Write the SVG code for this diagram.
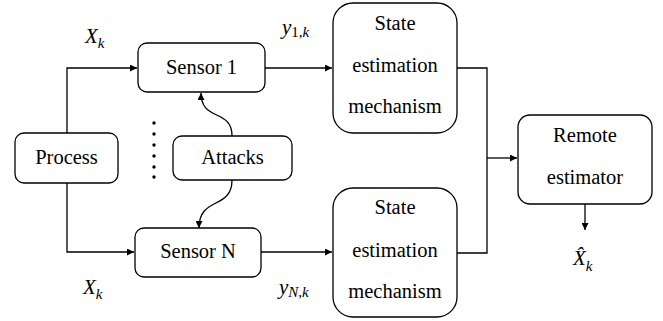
<svg xmlns="http://www.w3.org/2000/svg" width="663" height="321" viewBox="0 0 663 321">
<defs>
<style>
.box{fill:#fff;stroke:#000;stroke-width:1.3}
.wire{fill:none;stroke:#000;stroke-width:1.3}
.lbl{font-family:'Liberation Serif',serif;font-size:20.5px;fill:#000;text-anchor:middle}
.math{font-family:'Liberation Serif',serif;font-size:21px;font-style:italic;fill:#000}
.sub{font-size:15px}
.up{font-style:normal}
</style>
<marker id="ah" viewBox="0 0 10 10" refX="10" refY="5" markerWidth="7" markerHeight="7" markerUnits="userSpaceOnUse" orient="auto">
<path d="M0,0 L10,5 L0,10 z" fill="#000"/>
</marker>
</defs>
<g id="connectors">
<path class="wire" d="M67,133 V68 H137" marker-end="url(#ah)"/>
<path class="wire" d="M67,183 V252 H134" marker-end="url(#ah)"/>
<path class="wire" d="M265,68 H332" marker-end="url(#ah)"/>
<path class="wire" d="M261,252 H332" marker-end="url(#ah)"/>
<path class="wire" d="M457,68 H487 V253 H457"/>
<path class="wire" d="M487,158 H517" marker-end="url(#ah)"/>
<path class="wire" d="M585,204 V230" marker-end="url(#ah)"/>
<path class="wire" d="M232,136 C232,108 201,122 201,93" marker-end="url(#ah)"/>
<path class="wire" d="M232,180 C232,210 199,196 199,228" marker-end="url(#ah)"/>
</g>
<g id="process">
<rect class="box" x="15" y="133" width="103" height="50" rx="9"/>
<text class="lbl" x="66.5" y="164">Process</text>
</g>
<g id="sensor1">
<rect class="box" x="138" y="43" width="127" height="49" rx="9"/>
<text class="lbl" x="201.5" y="74">Sensor 1</text>
</g>
<g id="sensorN">
<rect class="box" x="135" y="228" width="126" height="49" rx="9"/>
<text class="lbl" x="198" y="258">Sensor N</text>
</g>
<g id="attacks">
<rect class="box" x="173" y="136" width="119" height="44" rx="9"/>
<text class="lbl" x="232.5" y="164">Attacks</text>
</g>
<g id="dots" fill="#000">
<circle cx="154" cy="123" r="1.7"/>
<circle cx="154" cy="134" r="1.7"/>
<circle cx="154" cy="145" r="1.7"/>
<circle cx="154" cy="156" r="1.7"/>
<circle cx="154" cy="167" r="1.7"/>
<circle cx="154" cy="177" r="1.7"/>
</g>
<g id="state1">
<rect class="box" x="333" y="3" width="124" height="130" rx="20"/>
<text class="lbl" x="395" y="30">State</text>
<text class="lbl" x="395" y="72">estimation</text>
<text class="lbl" x="395" y="113">mechanism</text>
</g>
<g id="state2">
<rect class="box" x="333" y="188" width="124" height="129" rx="20"/>
<text class="lbl" x="395" y="214">State</text>
<text class="lbl" x="395" y="257">estimation</text>
<text class="lbl" x="395" y="298">mechanism</text>
</g>
<g id="remote">
<rect class="box" x="518" y="115" width="134" height="89" rx="12"/>
<text class="lbl" x="585" y="142">Remote</text>
<text class="lbl" x="585" y="184">estimator</text>
</g>
<g id="labels">
<text class="math" x="85" y="43">X<tspan class="sub" dy="5">k</tspan></text>
<text class="math" x="83" y="294">X<tspan class="sub" dy="5">k</tspan></text>
<text class="math" x="282" y="34">y<tspan class="sub up" dy="3">1,</tspan><tspan class="sub">k</tspan></text>
<text class="math" x="279" y="294">y<tspan class="sub" dy="3">N,k</tspan></text>
<text class="math" x="573" y="265">X&#x302;<tspan class="sub" dy="6">k</tspan></text>
</g>
</svg>
